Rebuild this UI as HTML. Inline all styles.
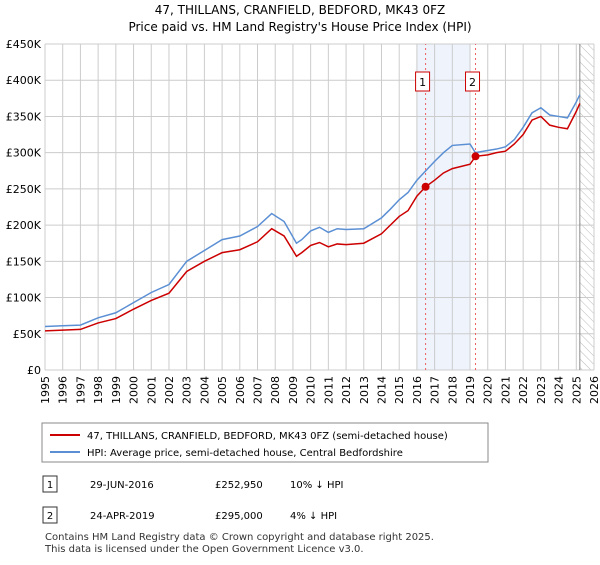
<!DOCTYPE html>
<html><head><meta charset="utf-8"><style>
body{margin:0;background:#fff;font-family:"Liberation Sans","DejaVu Sans",sans-serif;}
svg text{font-family:"DejaVu Sans","Liberation Sans",sans-serif;}
</style></head><body>
<svg id="c" width="600" height="560" xmlns="http://www.w3.org/2000/svg">
<defs><pattern id="h" width="6" height="6" patternUnits="userSpaceOnUse" patternTransform="rotate(-45)"><line x1="0" y1="0" x2="0" y2="6" stroke="#bbb" stroke-width="1"/></pattern></defs>
<text x="300" y="14" text-anchor="middle" font-size="12">47, THILLANS, CRANFIELD, BEDFORD, MK43 0FZ</text>
<text x="300" y="31" text-anchor="middle" font-size="12">Price paid vs. HM Land Registry's House Price Index (HPI)</text>
<g id="grid"></g><g id="marks"></g>
<g>
<rect x="42" y="423" width="446" height="39" fill="#fff" stroke="#888"/>
<line x1="50" y1="435" x2="80" y2="435" stroke="#cc0000" stroke-width="2"/>
<text x="87" y="439" font-size="10">47, THILLANS, CRANFIELD, BEDFORD, MK43 0FZ (semi-detached house)</text>
<line x1="50" y1="452" x2="80" y2="452" stroke="#5b8fd4" stroke-width="2"/>
<text x="87" y="456" font-size="10">HPI: Average price, semi-detached house, Central Bedfordshire</text>
</g>
<g font-size="10">
<rect x="43" y="476" width="14" height="16" fill="#fff" stroke="#333"/><text x="50" y="488" text-anchor="middle">1</text>
<text x="90" y="488">29-JUN-2016</text><text x="215" y="488">£252,950</text><text x="290" y="488">10% ↓ HPI</text>
<rect x="43" y="507" width="14" height="16" fill="#fff" stroke="#333"/><text x="50" y="519" text-anchor="middle">2</text>
<text x="90" y="519">24-APR-2019</text><text x="215" y="519">£295,000</text><text x="290" y="519">4% ↓ HPI</text>
</g>
<text x="45" y="540" font-size="10" fill="#333">Contains HM Land Registry data © Crown copyright and database right 2025.</text>
<text x="45" y="552" font-size="10" fill="#333">This data is licensed under the Open Government Licence v3.0.</text>
</svg>
<script>
const years=[1995,1996,1997,1998,1999,2000,2001,2002,2003,2004,2005,2006,2007,2008,2009,2010,2011,2012,2013,2014,2015,2016,2017,2018,2019,2020,2021,2022,2023,2024,2025,2026];
const yTicks=[0,50,100,150,200,250,300,350,400,450];
const hpiT=[1995,1996,1997,1998,1999,2000,2001,2002,2003,2004,2005,2006,2007,2007.8,2008.5,2009.2,2009.5,2010,2010.5,2011,2011.5,2012,2013,2014,2014.5,2015,2015.5,2016,2016.5,2017,2017.5,2018,2019,2019.3,2020,2020.5,2021,2021.5,2022,2022.5,2023,2023.5,2024,2024.5,2025,2025.2];
const hpiV=[60,61,62,72,79,93,107,118,150,165,180,185,198,216,205,175,180,192,197,190,195,194,195,210,222,235,245,262,275,288,300,310,312,300,303,305,308,318,335,355,362,352,350,348,370,380];
const ppT=[1995,1996,1997,1998,1999,2000,2001,2002,2003,2004,2005,2006,2007,2007.8,2008.5,2009.2,2009.5,2010,2010.5,2011,2011.5,2012,2013,2014,2014.5,2015,2015.5,2016,2016.49,2017,2017.5,2018,2019,2019.31,2020,2020.5,2021,2021.5,2022,2022.5,2023,2023.5,2024,2024.5,2025,2025.2];
const ppV=[54,55,56,65,71,84,96,106,136,150,162,166,177,195,185,157,162,172,176,170,174,173,175,188,200,212,220,240,252.95,262,272,278,284,295,297,300,302,312,325,345,350,338,335,333,357,368];
const saleT=[2016.49,2019.31];
const saleV=[252.95,295];
const saleLabels=["1","2"];
const X=t=>45+(t-1995)*(549/31);
const Y=v=>370-v*(326/450);
const NS="http://www.w3.org/2000/svg";
function mk(p,tag,a){const e=document.createElementNS(NS,tag);for(const k in a)e.setAttribute(k,a[k]);p.appendChild(e);return e;}
const g=document.getElementById('grid'),m=document.getElementById('marks');
let e=mk(g,'rect',{x:X(2016),y:Y(450),width:X(2019)-X(2016),height:Y(0)-Y(450),fill:'#eef3fc'});


e=mk(g,'rect',{x:X(2025.2),y:Y(450),width:X(2026)-X(2025.2),height:Y(0)-Y(450),fill:'url(#h)'});


yTicks.forEach(v=>{mk(g,'line',{x1:45,x2:X(2026),y1:Y(v*1),y2:Y(v*1),stroke:'#ccc'});
const t=mk(g,'text',{x:41,y:Y(v)+4,'text-anchor':'end','font-size':11});t.textContent=v===0?'£0':'£'+v+'K';

});
years.forEach(y=>{mk(g,'line',{x1:X(y),x2:X(y),y1:Y(0),y2:Y(450),stroke:'#ccc'});
const t=mk(g,'text',{x:0,y:0,'text-anchor':'end','font-size':11,transform:`translate(${X(y)+4},${Y(0)+6}) rotate(-90)`});t.textContent=y;

});
mk(g,'line',{x1:X(2025.2),x2:X(2025.2),y1:Y(0),y2:Y(450),stroke:'#888'});
function line(T,V,c,n){const p=mk(m,'polyline',{points:T.map((t,i)=>X(t)+','+Y(V[i])).join(' '),fill:'none',stroke:c,'stroke-width':1.5});

}
line(hpiT,hpiV,'#5b8fd4','hpi-line');
line(ppT,ppV,'#cc0000','price-paid-line');
saleT.forEach((t,i)=>{mk(m,'line',{x1:X(t),x2:X(t),y1:Y(0),y2:Y(450),stroke:'#f06060','stroke-dasharray':'2,3'});
const d=mk(m,'circle',{cx:X(t),cy:Y(saleV[i]),r:4,fill:'#cc0000'});


const r=mk(m,'rect',{x:X(t)-10,y:72,width:14,height:19,fill:'#fff',stroke:'#cc0000'});


const tx=mk(m,'text',{x:X(t)-3,y:86,'text-anchor':'middle','font-size':11});tx.textContent=saleLabels[i];});
</script>
</body></html>
